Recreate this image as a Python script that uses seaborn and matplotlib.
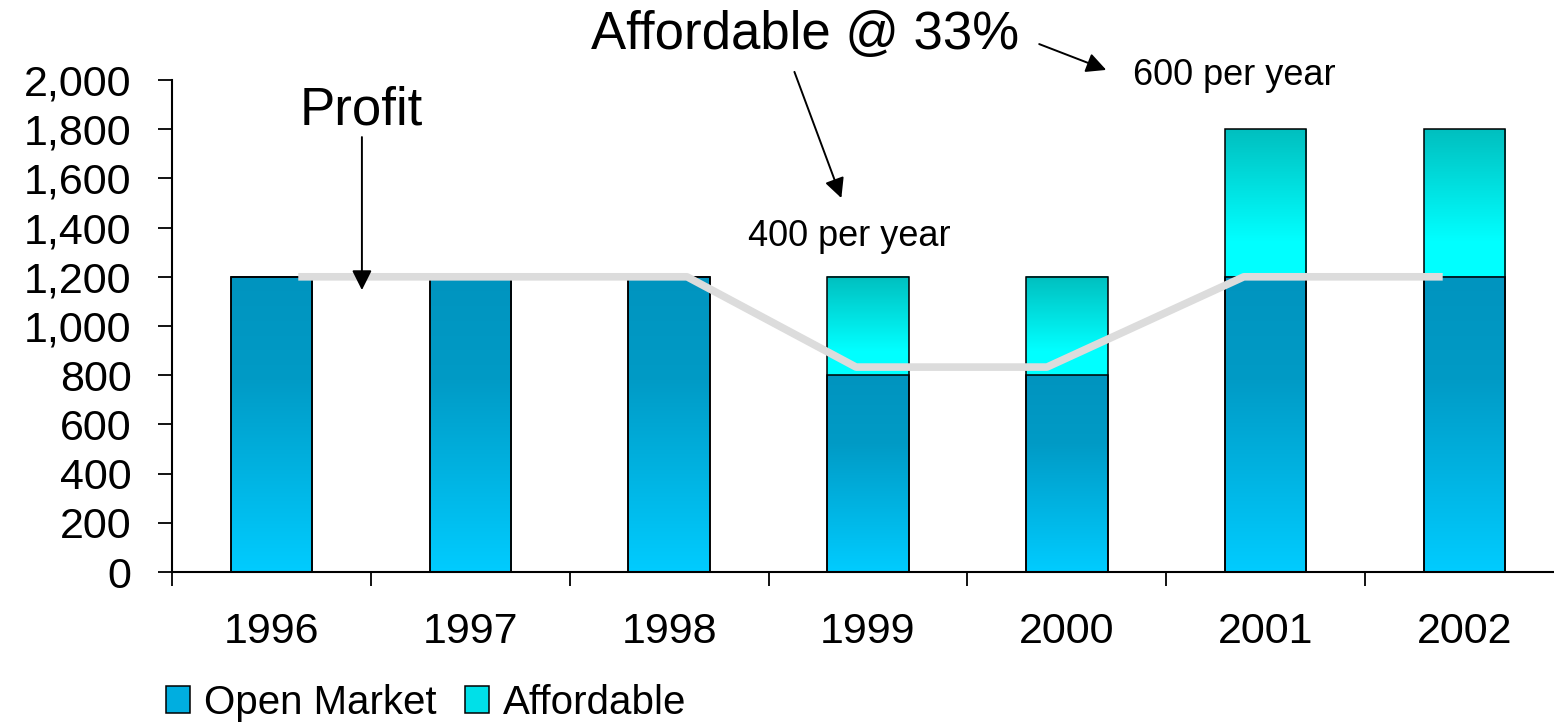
import numpy as np
import pandas as pd
import matplotlib.pyplot as plt
import seaborn as sns
from matplotlib.colors import LinearSegmentedColormap
from matplotlib.patches import Patch

sns.set_style("ticks")
plt.rcParams['font.family'] = ['Liberation Sans', 'DejaVu Sans']
plt.rcParams['text.color'] = 'black'
plt.rcParams['xtick.color'] = 'black'
plt.rcParams['ytick.color'] = 'black'
plt.rcParams['axes.edgecolor'] = 'black'

years = ['1996', '1997', '1998', '1999', '2000', '2001', '2002']
open_market = [1200, 1200, 1200, 800, 800, 1200, 1200]
affordable = [0, 0, 0, 400, 400, 600, 600]

# profit line (x in category units)
profit_x = [0.135, 2.09, 2.94, 3.90, 4.89, 5.89]
profit_y = [1200, 1200, 833, 833, 1200, 1200]

df = pd.DataFrame({'Year': years, 'Open Market': open_market, 'Affordable': affordable})
df['Total'] = df['Open Market'] + df['Affordable']

open_cmap = LinearSegmentedColormap.from_list(
    'open', [(0, '#0094bf'), (0.35, '#009bc6'), (1, '#00ccff')])
aff_cmap = LinearSegmentedColormap.from_list(
    'aff', [(0, '#00bfbf'), (0.75, '#00ffff'), (1, '#00ffff')])

fig = plt.figure(figsize=(15.54, 7.22), dpi=100)
ax = fig.add_axes([172 / 1554, 150 / 722, (1564 - 172) / 1554, 492 / 722])

sns.barplot(data=df, x='Year', y='Total', color='#00ffff', width=0.41,
            edgecolor='black', linewidth=1.1, ax=ax)
sns.barplot(data=df, x='Year', y='Open Market', color='#00b0e0', width=0.41,
            edgecolor='black', linewidth=1.1, ax=ax)

n = len(years)
grad = np.linspace(0, 1, 256).reshape(-1, 1)
for i, p in enumerate(ax.patches):
    x0, w = p.get_x(), p.get_width()
    p.set_facecolor('none')
    p.set_zorder(3)
    if i < n:
        lo, hi = open_market[i], open_market[i] + affordable[i]
        cmap = aff_cmap
    else:
        lo, hi = 0, open_market[i - n]
        cmap = open_cmap
    if hi > lo:
        ax.imshow(grad, cmap=cmap, extent=[x0, x0 + w, lo, hi],
                  aspect='auto', zorder=2, interpolation='bilinear')

ax.plot(profit_x, profit_y, color='#dcdcdc', lw=5.5, zorder=4, solid_capstyle='butt')

ax.set_xlim(-0.5, 6.5)
ax.set_ylim(0, 2000)
ax.set_xlabel('')
ax.set_ylabel('')
ax.set_yticks(range(0, 2001, 200))
ax.set_yticklabels([f'{v:,}' for v in range(0, 2001, 200)])
ax.set_xticks(range(n))
ax.set_xticklabels(years)
ax.set_xticks(np.arange(-0.5, 6.0, 1.0), minor=True)
ax.tick_params(axis='y', direction='out', length=10, width=1.3, pad=19, labelsize=31)
ax.tick_params(axis='x', which='major', length=0, pad=29, labelsize=31)
ax.tick_params(axis='x', which='minor', direction='out', length=10, width=1.3)
sns.despine(ax=ax)
for s in ['left', 'bottom']:
    ax.spines[s].set_linewidth(1.5)

arrow = dict(arrowstyle='-|>', color='black', lw=1.4, mutation_scale=30, shrinkA=0, shrinkB=0)
ax.text(0.45, 1878, 'Profit', fontsize=38, ha='center', va='center')
ax.annotate('', xy=(0.455, 1146), xytext=(0.455, 1768), arrowprops=arrow,
            annotation_clip=False, zorder=6)
ax.text(2.685, 2183, 'Affordable @ 33%', fontsize=38, ha='center', va='center', clip_on=False)
ax.annotate('', xy=(2.866, 1520), xytext=(2.63, 2033), arrowprops=arrow,
            annotation_clip=False, zorder=6)
ax.text(2.906, 1362, '400 per year', fontsize=26, ha='center', va='center')
ax.annotate('', xy=(4.198, 2041), xytext=(3.861, 2146), arrowprops=arrow,
            annotation_clip=False, zorder=6)
ax.text(4.842, 2020, '600 per year', fontsize=26, ha='center', va='center', clip_on=False)

handles = [Patch(facecolor='#00aee0', edgecolor='black', lw=1.1),
           Patch(facecolor='#00e0e8', edgecolor='black', lw=1.1)]
fig.legend(handles, ['Open Market', 'Affordable'], loc='center left',
           bbox_to_anchor=(150 / 1554, 1 - 703 / 722), ncol=2, frameon=False,
           fontsize=29, handlelength=0.6, handleheight=0.65, handletextpad=0.35,
           columnspacing=0.7, borderaxespad=0)

fig.savefig('out.png', dpi=100)
